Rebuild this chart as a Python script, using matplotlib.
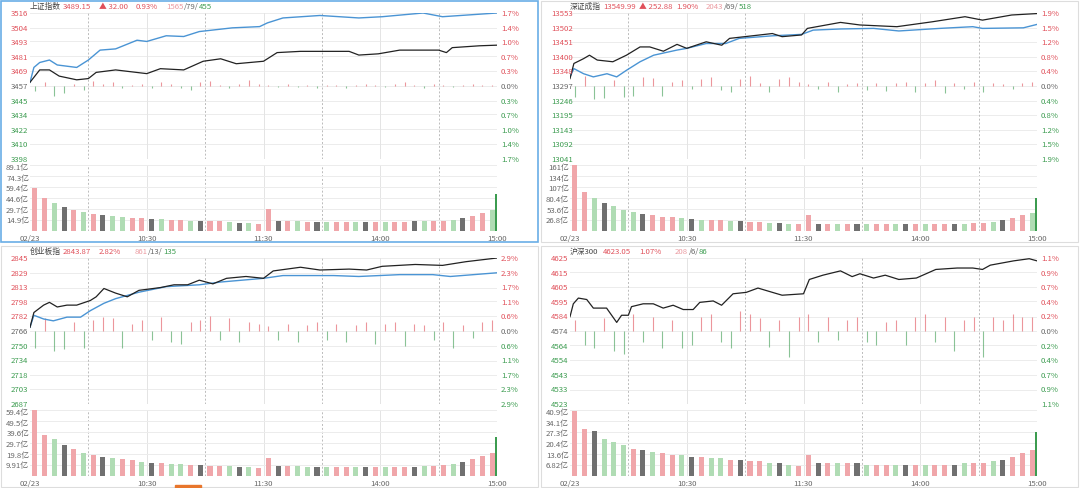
import matplotlib
matplotlib.use("Agg")
import matplotlib.pyplot as plt
from matplotlib.patches import Rectangle
import numpy as np

plt.rcParams['font.family'] = ['Noto Sans CJK SC', 'DejaVu Sans']

W, H = 1080, 489
RED = '#e0505a'; GREEN = '#3c9c50'; GRAY = '#666666'
BLUE = '#4a94d4'; BLACK = '#222222'
CMAP = {'r': '#f0a6aa', 'g': '#b0dcb4', 'k': '#707070'}

# ---------------- data ----------------
names = ['上证指数', '深证成指', '创业板指', '沪深300']
last = ['3489.15', '13549.99', '2843.87', '4623.05']
chg = ['▲ 32.00', '▲ 252.88', '', '']
pct = ['0.93%', '1.90%', '2.82%', '1.07%']
breadth = [('1565', '79', '455'), ('2043', '69', '518'), ('861', '13', '135'), ('208', '6', '86')]

price_ticks = [
    [3516, 3504, 3493, 3481, 3469, 3457, 3445, 3434, 3422, 3410, 3398],
    [13553, 13502, 13451, 13400, 13348, 13297, 13246, 13195, 13143, 13092, 13041],
    [2845, 2829, 2813, 2798, 2782, 2766, 2750, 2734, 2718, 2703, 2687],
    [4625, 4615, 4605, 4595, 4584, 4574, 4564, 4554, 4543, 4533, 4523],
]
pct_ticks = [
    ['1.7%', '1.4%', '1.0%', '0.7%', '0.3%', '0.0%', '0.3%', '0.7%', '1.0%', '1.4%', '1.7%'],
    ['1.9%', '1.5%', '1.2%', '0.8%', '0.4%', '0.0%', '0.4%', '0.8%', '1.2%', '1.5%', '1.9%'],
    ['2.9%', '2.3%', '1.7%', '1.1%', '0.6%', '0.0%', '0.6%', '1.1%', '1.7%', '2.3%', '2.9%'],
    ['1.1%', '0.9%', '0.7%', '0.4%', '0.2%', '0.0%', '0.2%', '0.4%', '0.7%', '0.9%', '1.1%'],
]
vol_ticks = [
    ['14.9亿', '29.7亿', '44.6亿', '59.4亿', '74.3亿', '89.1亿'],
    ['26.8亿', '53.6亿', '80.4亿', '107亿', '134亿', '161亿'],
    ['9.91亿', '19.8亿', '29.7亿', '39.6亿', '49.5亿', '59.4亿'],
    ['6.82亿', '13.6亿', '20.4亿', '27.3亿', '34.1亿', '40.9亿'],
]
vol_max = [89.1, 161, 59.4, 40.9]

# black line (index) : minutes, values
blk_t = [
    [0, 5, 10, 15, 24, 30, 34, 44, 60, 67, 79, 89, 98, 106, 120, 127, 139, 164, 169, 179, 190, 210, 214, 217, 231, 240],
    [0, 2, 7, 10, 14, 22, 29, 36, 41, 48, 55, 60, 70, 78, 82, 104, 109, 119, 122, 139, 149, 168, 186, 203, 212, 227, 240],
    [0, 2, 7, 10, 14, 19, 24, 31, 34, 38, 44, 50, 56, 67, 74, 81, 87, 94, 101, 111, 120, 125, 139, 149, 164, 173, 181, 198, 212, 224, 240],
    [0, 1.7, 4.3, 8.6, 12, 18.8, 24, 26.5, 30, 31.6, 37.6, 42.8, 47.9, 53, 58.2, 63.3, 66.7, 73.6, 77.9, 83.8, 90.6,
     96.6, 104, 109, 120, 123, 130, 139, 145, 149, 156, 162, 169, 178, 188, 199, 207, 212, 216, 228, 236, 240],
]
blk_v = [
    [3460, 3470, 3470, 3465, 3462, 3463, 3468, 3470, 3467, 3471, 3470, 3477, 3479, 3475, 3477, 3484, 3485, 3485, 3482, 3483, 3486, 3486, 3484, 3488, 3489.5, 3490],
    [13323, 13376, 13393, 13405, 13388, 13382, 13405, 13434, 13434, 13419, 13443, 13429, 13452, 13440, 13464, 13481, 13470, 13476, 13499, 13520, 13511, 13505, 13522, 13540, 13528, 13546, 13551],
    [2770, 2786, 2794, 2797, 2792, 2794, 2794, 2799, 2803, 2812, 2807, 2803, 2810, 2813, 2816, 2816, 2821, 2817, 2823, 2825, 2823, 2831, 2835, 2832, 2833, 2832, 2836, 2838, 2837, 2841, 2845],
    [4584, 4593, 4597, 4596, 4590, 4590, 4580, 4585, 4585, 4591, 4593, 4593, 4590, 4592, 4589, 4589, 4594, 4595, 4592, 4600, 4601,
     4604, 4601, 4599, 4600, 4610, 4613, 4616, 4612, 4614, 4611, 4613, 4610, 4611, 4617, 4618, 4618, 4617, 4620, 4623, 4624.5, 4623],
]
# blue line (average) : minutes, values
blu_t = [
    [0, 2, 5, 10, 14, 24, 30, 36, 44, 55, 60, 70, 79, 87, 104, 118, 122, 130, 149, 169, 181, 202, 212, 240],
    [0, 2, 7, 12, 19, 24, 29, 36, 43, 55, 60, 70, 80, 87, 104, 119, 125, 139, 156, 169, 190, 207, 212, 233, 240],
    [0, 2, 7, 12, 19, 26, 31, 38, 44, 56, 70, 87, 98, 120, 130, 156, 169, 190, 207, 216, 240],
    [],
]
blu_v = [
    [3460, 3472, 3476, 3478, 3474, 3472, 3478, 3486, 3487, 3494, 3493, 3497.6, 3497, 3501, 3504, 3505, 3508, 3512, 3514, 3512, 3513, 3516, 3513, 3516],
    [13329, 13358, 13340, 13329, 13340, 13329, 13352, 13382, 13405, 13423, 13429, 13446, 13446, 13464, 13473, 13478, 13493, 13497, 13499, 13490, 13499, 13505, 13499, 13501, 13513],
    [2770, 2783, 2779, 2777, 2781, 2781, 2788, 2796, 2801, 2808, 2814, 2816, 2819, 2823, 2826, 2826, 2825, 2827, 2827, 2825, 2829],
    [],
]
# small deviation bars around the previous close (price units), one per 5 minutes
dev = [
    [-4, 3, -8, -6, 2, -3, 4, 2, 3, -2, 1, 2, -2, 3, 2, -2, -3, 3, 4, 1, -2, 2, 5, 2,
     1, -1, 2, -1, 1, -2, 1, 1, -2, 1, 2, 1, -1, 2, 3, 1, -2, 2, 1, -1, 1, 2, 1, 1],
    [-40, 35, -45, -42, 20, -38, -35, 30, 28, -35, 15, 20, -10, 25, 30, -15, -20, 25, 35, 10, -20, 25, 30, 15,
     8, -12, 15, -20, 8, 10, -15, 10, -18, 12, 15, -20, 10, 20, -25, 12, -10, 15, -22, 10, 8, -10, 12, 15],
    [-18, 14, -22, -20, 10, -18, 12, 15, 14, -18, 8, 12, -10, 15, -12, -14, 10, 12, 16, -10, 14, -12, 10, 8,
     5, -10, 8, -12, 6, 10, -10, 8, -12, 6, 10, -14, 8, 10, -16, 8, 6, -10, 10, -18, 6, -8, 10, 12],
    [8, -10, -12, 9, -14, -16, 12, -8, 10, -12, 8, -12, -10, 10, 12, -8, -12, 14, 12, 9, -11, 8, -18, 10,
     12, -8, 10, -6, 8, 10, -8, -10, 6, 8, -10, 10, 12, -8, 10, -14, 8, 10, -18, 10, 8, 12, 10, 10],
]
# volume (亿) per 5 minutes + closing auction bar
vol = [
    [58, 44, 38, 33, 28, 25, 23, 21, 20, 19, 18, 17, 16, 16, 15, 15, 14, 14, 13, 13, 12, 11, 11, 10,
     30, 13, 13, 13, 12, 12, 12, 12, 12, 12, 12, 12, 12, 12, 12, 13, 13, 13, 14, 15, 17, 20, 24, 28],
    [161, 95, 80, 68, 60, 52, 46, 42, 38, 35, 33, 31, 30, 28, 27, 26, 25, 24, 22, 21, 20, 19, 18, 17,
     40, 18, 18, 18, 17, 17, 17, 17, 17, 17, 17, 18, 17, 17, 17, 18, 18, 19, 20, 22, 26, 32, 38, 45],
    [59, 37, 33, 28, 24, 21, 19, 17, 16, 15, 14, 13, 12, 12, 11, 11, 10, 10, 9, 9, 9, 8, 8, 7,
     16, 9, 9, 9, 8, 8, 8, 8, 8, 8, 8, 8, 8, 8, 8, 8, 9, 9, 10, 11, 13, 15, 18, 21],
    [40, 29, 28, 23, 21, 19, 17, 16, 15, 14, 13, 13, 12, 12, 11, 11, 10, 10, 9, 9, 8, 8, 7, 6,
     13, 8, 8, 8, 8, 8, 7, 7, 7, 7, 7, 7, 7, 7, 7, 7, 8, 8, 8, 9, 10, 12, 14, 16],
]
vol_close = [50, 80, 35, 27]
vol_col = [
    'rrgkrgrkggrrkgrrgkrrgkgr' 'rkrgrkgrrgkrgrrkgrrgkrrg',
    'rrgkgggkrrrgkgrrgkrrgkgr' 'rkrgrkgrrgkrgrrkgrrgkrrg',
    'rrgkrgrkgrrgkrggrkrrgkgr' 'rkrggkgrrgkrgrrkgrrgkrrr',
    'rrkgggrkgrrgkrggrkrrgkgr' 'rkrgrkgrrgkrgrrkgrrgkrrr',
]
time_lbl = ['02/23', '10:30', '11:30', '14:00', '15:00']
time_pos = [0, 60, 120, 180, 240]

# ---------------- drawing ----------------
fig = plt.figure(figsize=(W / 100, H / 100), dpi=100)
fig.patch.set_facecolor('white')

def ax_px(x0, y0, x1, y1):
    return fig.add_axes([x0 / W, 1 - y1 / H, (x1 - x0) / W, (y1 - y0) / H])

def ftext(x, y, s, **kw):
    return fig.text(x / W, 1 - y / H, s, **kw)

FS = 5.6
renderer = fig.canvas.get_renderer()
offsets = [(0, 0), (540, 0), (0, 245), (540, 245)]
for i, (ox, oy) in enumerate(offsets):
    fig.patches.append(Rectangle(((ox + 1) / W, 1 - (oy + 243) / H), 537 / W, 241 / H,
                                 transform=fig.transFigure, fill=False,
                                 ec='#6aaee6' if i == 0 else '#dddddd', lw=1.2 if i == 0 else 0.8))
    x0, x1 = ox + 30, ox + 497
    ap = ax_px(x0, oy + 14, x1, oy + 160)
    av = ax_px(x0, oy + 166, x1, oy + 232)
    pt = price_ticks[i]
    for a in (ap, av):
        a.set_xlim(0, 240)
        a.axis('off')
    ap.set_ylim(pt[-1], pt[0])
    for v in pt:
        ap.axhline(v, color='#ececec', lw=0.7, zorder=0)
    for m in (30, 60, 90, 120, 150, 180, 210):
        for a in (ap, av):
            a.axvline(m, color='#bbbbbb' if m in (30, 90, 150, 210) else '#e4e4e4',
                      lw=0.7, ls=(0, (2, 2)) if m in (30, 90, 150, 210) else '-', zorder=0)
    for a in (ap, av):
        a.axvline(240, color='#dddddd', lw=0.7, zorder=0)
    base = pt[5]
    d = np.array(dev[i])
    tm = np.arange(len(d)) * 5 + 2.5
    ap.vlines(tm, base, base + d, colors=[RED if v > 0 else GREEN for v in d], lw=0.8, alpha=0.6, zorder=2)
    if blu_t[i]:
        ap.plot(blu_t[i], blu_v[i], color=BLUE, lw=1.0, zorder=3)
    ap.plot(blk_t[i], blk_v[i], color=BLACK, lw=0.9, zorder=4)
    for k, v in enumerate(pt):
        y = oy + 14 + k * 14.6
        c = RED if k < 5 else (GRAY if k == 5 else GREEN)
        ftext(ox + 11, y, str(v), fontsize=FS, color=c, va='center', ha='left')
        ftext(ox + 501, y, pct_ticks[i][k], fontsize=FS, color=c, va='center', ha='left')
    vm = vol_max[i]
    av.set_ylim(0, vm)
    for k in range(1, 7):
        av.axhline(vm * k / 6, color='#ececec', lw=0.7, zorder=0)
        ftext(ox + 29, oy + 232 - 64 * k / 6, vol_ticks[i][k - 1], fontsize=FS, color=GRAY,
              va='center', ha='right')
    vv = np.array(vol[i])
    tv = np.arange(len(vv)) * 5 + 2.5
    av.bar(tv, vv, width=2.6, color=[CMAP[c] for c in vol_col[i]], zorder=2)
    av.bar([239.5], [vol_close[i]], width=0.8, color='#3c9c50', zorder=2)
    for lbl, m in zip(time_lbl, time_pos):
        ftext(x0 + (x1 - x0) * m / 240, oy + 239, lbl, fontsize=FS, color=GRAY, ha='center', va='center')
    hy = oy + 7
    ftext(ox + 30, hy, names[i], fontsize=FS, color='#444444', va='center')
    ftext(ox + 63, hy, last[i], fontsize=FS, color=RED, va='center')
    if chg[i]:
        ftext(ox + 99, hy, chg[i], fontsize=FS, color=RED, va='center')
        px, bx = ox + 136, ox + 166
    else:
        px, bx = ox + 99, ox + 135
    ftext(px, hy, pct[i], fontsize=FS, color=RED, va='center')
    up, fl, dn = breadth[i]
    for s, c in ((up, '#eb9aa0'), ('/' + fl + '/', GRAY), (dn, GREEN)):
        t = ftext(bx, hy, s, fontsize=FS, color=c, va='center')
        bx += t.get_window_extent(renderer).width + 0.3
fig.patches.append(Rectangle((175 / W, 0), 26 / W, 3 / H, transform=fig.transFigure,
                             color='#e8762c'))
fig.savefig('out.png', dpi=100, facecolor='white')
